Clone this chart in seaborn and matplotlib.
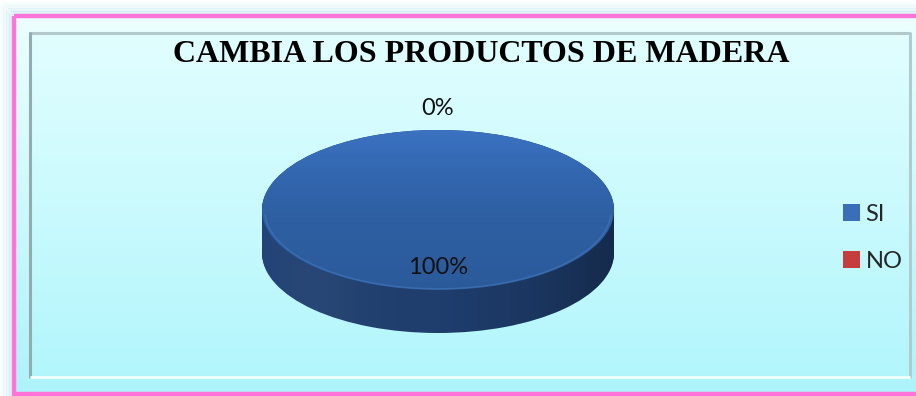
import numpy as np
import matplotlib
matplotlib.use("Agg")
import matplotlib.pyplot as plt
from matplotlib.patches import Rectangle, Patch, PathPatch
from matplotlib.path import Path
from matplotlib.colors import LinearSegmentedColormap
import seaborn as sns

# ---- data ----
categories = ["SI", "NO"]
values = [100, 0]
title = "CAMBIA LOS PRODUCTOS DE MADERA"

sns.set_theme(style="white")
plt.rcParams["font.family"] = ["Lato", "DejaVu Sans"]

face_colors = ["#2f62a7", "#c23b3b"]
side_colors = ["#1f3e6e", "#7e2222"]

W, H = 916, 396
fig = plt.figure(figsize=(W / 100, H / 100), dpi=100)
fig.patch.set_facecolor("white")

# ---- backdrop drawn in pixel coordinates ----
bg = fig.add_axes([0, 0, 1, 1], zorder=0)
bg.set_xlim(0, W)
bg.set_ylim(H, 0)
bg.axis("off")


def vgrad(ax, x0, x1, y0, y1, c_top, c_bot, clip=None, z=1):
    cmap = LinearSegmentedColormap.from_list("g", [c_top, c_bot])
    grad = np.linspace(0, 1, 256).reshape(-1, 1)
    im = ax.imshow(grad, cmap=cmap, extent=(x0, x1, y1, y0), aspect="auto",
                   origin="upper", zorder=z, interpolation="bilinear")
    if clip is not None:
        im.set_clip_path(clip)
    return im


# soft cyan glow around the pink frame
for g, a in zip([12, 9, 6, 3], [0.06, 0.10, 0.16, 0.24]):
    bg.add_patch(Rectangle((14 - g, 16 - g), W + 40, H + 40, facecolor="none",
                           edgecolor="#86d6e8", lw=3, alpha=a, zorder=1))

# outer panel with gradient fill
vgrad(bg, 14, W, 16, 394, "#ecffff", "#aef3fa", z=1)
bg.add_patch(Rectangle((14, 16), W + 10, 378, facecolor="none",
                       edgecolor="#ff74d8", lw=3.2, zorder=5))

# inner bevelled panel
vgrad(bg, 29, 910, 32, 378, "#e2feff", "#b2f6fc", z=2)
bg.plot([29, 910], [32.5, 32.5], color="#b3c8cb", lw=2.2, zorder=3, solid_capstyle="butt")
bg.plot([29.5, 29.5], [32, 378], color="#93acb0", lw=2.2, zorder=3, solid_capstyle="butt")
bg.plot([909.5, 909.5], [32, 378], color="#afcdd1", lw=2.2, zorder=3, solid_capstyle="butt")
bg.plot([30, 910], [377, 377], color="#f2ffff", lw=2.0, zorder=3, solid_capstyle="butt")

# ---- title ----
fig.text(481 / W, 1 - 55 / H, title, ha="center", va="center",
         fontsize=23, fontweight="bold", family=["Liberation Serif", "DejaVu Serif"],
         color="black", zorder=10)

# ---- 3D-looking pie ----
cx, cy, rx, ry = 438, 210, 176, 80       # centre and radii in pixels
depth = 43 / ry                          # side thickness in data units

ax = fig.add_axes([0, 0, 1, 1], zorder=2)
ax.patch.set_alpha(0)
xlim = ((0 - cx) / rx, (W - cx) / rx)
ylim = ((cy - H) / ry, cy / ry)

# extruded side: stacked copies of the pie shifted downwards
for k in np.linspace(depth, 0, 45):
    ax.pie(values, colors=side_colors, startangle=90, counterclock=False,
           center=(0, -k), radius=1, wedgeprops=dict(linewidth=0))

# horizontal shading over the side wall
t = np.linspace(np.pi, 2 * np.pi, 120)
side_pts = np.concatenate([
    np.column_stack([np.cos(t), np.sin(t)]),
    np.column_stack([np.cos(t[::-1]), np.sin(t[::-1]) - depth]),
])
side_path = PathPatch(Path(side_pts, closed=False), transform=ax.transData,
                      facecolor="none", edgecolor="none")
ax.add_patch(side_path)
side_cmap = LinearSegmentedColormap.from_list(
    "side", [(0.2, 0.4, 0.75, 0.12), (1, 1, 1, 0.03), (0, 0, 0, 0.0),
             (0, 0, 0, 0.12), (0, 0, 0, 0.30)])
side_img = ax.imshow(np.linspace(0, 1, 256).reshape(1, -1), cmap=side_cmap,
                     extent=(-1, 1, -1 - depth, 0), aspect="auto", zorder=3,
                     interpolation="bilinear")
side_img.set_clip_path(side_path)

# top face
wedges, _ = ax.pie(values, colors=face_colors, startangle=90, counterclock=False,
                   center=(0, 0), radius=1, wedgeprops=dict(linewidth=0))
shade = LinearSegmentedColormap.from_list(
    "face", [(0.35, 0.6, 1.0, 0.30), (0.3, 0.55, 0.95, 0.08),
             (0, 0, 0, 0.04), (0, 0, 0, 0.08)])
for w in wedges:
    w.set_zorder(4)
    img = ax.imshow(np.linspace(0, 1, 256).reshape(-1, 1), cmap=shade,
                    extent=(-1, 1, -1, 1), aspect="auto", origin="upper",
                    zorder=5, interpolation="bilinear")
    img.set_clip_path(w)

# thin rim along the front edge of the face
tt = np.linspace(np.pi * 1.02, np.pi * 1.98, 100)
ax.plot(0.985 * np.cos(tt), 0.985 * np.sin(tt), color="#4a7fc4", lw=1.0,
        alpha=0.5, zorder=6)

ax.set_aspect("auto")
ax.set_xlim(*xlim)
ax.set_ylim(*ylim)
ax.axis("off")

# percentage labels at each wedge's mid angle
total = sum(values)
for w, v in zip(wedges, values):
    mid = np.deg2rad((w.theta1 + w.theta2) / 2)
    dist = 0.72 if v > 0 else 1.27
    ax.text(dist * np.cos(mid), dist * np.sin(mid), f"{v / total * 100:.0f}%",
            ha="center", va="center", fontsize=17, color="#111111", zorder=8)

# ---- legend ----
handles = [Patch(facecolor=c, edgecolor="none") for c in ["#3a6fb8", "#c63d3d"]]
fig.legend(handles, categories, loc="center left",
           bbox_to_anchor=(843 / W, 1 - 238 / H), frameon=False, fontsize=17,
           handlelength=0.7, handleheight=0.7, handletextpad=0.25,
           labelspacing=1.1, borderpad=0, borderaxespad=0)

fig.savefig("out.png", dpi=100)
